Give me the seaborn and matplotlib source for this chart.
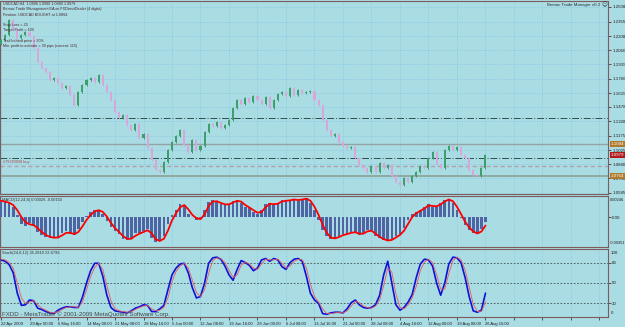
import numpy as np
import pandas as pd
import seaborn as sns
import matplotlib.pyplot as plt
import matplotlib.transforms as mtransforms

# USDCAD H4, one value per plotted bar
first_open = 1.2130
closes = [1.2167, 1.2218, 1.2374, 1.2270, 1.2187, 1.2218, 1.2249, 1.2208, 1.2084, 1.1939,
          1.1877, 1.1836, 1.1753, 1.1774, 1.1722, 1.1670, 1.1691, 1.1598, 1.1495, 1.1629,
          1.1701, 1.1753, 1.1774, 1.1732, 1.1805, 1.1701, 1.1629, 1.1546, 1.1422, 1.1360,
          1.1391, 1.1288, 1.1236, 1.1298, 1.1153, 1.1195, 1.1050, 1.0926, 1.0823, 1.0802,
          1.0905, 1.1029, 1.1112, 1.1174, 1.1236, 1.1081, 1.1009, 1.1133, 1.1029, 1.1071,
          1.1215, 1.1298, 1.1278, 1.1319, 1.1257, 1.1288, 1.1340, 1.1464, 1.1546, 1.1505,
          1.1567, 1.1526, 1.1588, 1.1546, 1.1505, 1.1577, 1.1464, 1.1546, 1.1608, 1.1629,
          1.1588, 1.1670, 1.1598, 1.1650, 1.1619, 1.1629, 1.1639, 1.1546, 1.1495, 1.1340,
          1.1236, 1.1174, 1.1195, 1.1112, 1.1071, 1.1050, 1.1060, 1.0947, 1.0874, 1.0843,
          1.0802, 1.0864, 1.0802, 1.0895, 1.0843, 1.0874, 1.0761, 1.0698, 1.0667, 1.0740,
          1.0698, 1.0761, 1.0802, 1.0864, 1.0843, 1.0947, 1.1009, 1.0885, 1.0843, 1.1029,
          1.1071, 1.1029, 1.1060, 1.0978, 1.0947, 1.0823, 1.0771, 1.0761, 1.0843, 1.0979]

# MACD main (histogram) and signal, in 1e-5 units
macd_hist = [176, 176, 164, 117, 23, -82, -105, -70, -105, -176,
             -211, -234, -246, -246, -234, -187, -164, -199, -211, -140,
             -59, 12, 59, 82, 82, 35, -47, -117, -164, -199,
             -257, -269, -246, -187, -187, -164, -140, -246, -293, -281,
             -222, -82, 23, 82, 152, 140, 35, 0, -35, -23,
             82, 176, 199, 176, 152, 140, 152, 187, 199, 164,
             117, 105, 59, 35, 82, 152, 164, 140, 164, 199,
             187, 199, 211, 187, 211, 222, 164, 82, -35, -152,
             -222, -257, -246, -222, -199, -199, -176, -176, -211, -187,
             -152, -164, -222, -246, -269, -281, -257, -222, -199, -129,
             -35, 35, 59, 82, 117, 152, 117, 129, 164, 199,
             211, 164, 82, -12, -94, -152, -187, -199, -140, -59]
macd_signal = [190, 180, 168, 140, 80, 0, -60, -85, -95, -130,
               -175, -210, -232, -242, -240, -215, -185, -185, -200, -175,
               -110, -35, 25, 65, 80, 60, 5, -70, -130, -175,
               -225, -255, -255, -220, -195, -175, -155, -190, -260, -280,
               -255, -160, -40, 45, 115, 140, 90, 25, -15, -25,
               30, 130, 180, 185, 165, 148, 148, 170, 190, 180,
               140, 112, 80, 50, 60, 115, 155, 150, 155, 182,
               190, 195, 205, 198, 205, 215, 190, 120, 25, -90,
               -185, -240, -250, -235, -212, -200, -185, -178, -195, -195,
               -168, -160, -195, -232, -258, -275, -268, -240, -210, -160,
               -80, 0, 45, 72, 100, 135, 130, 125, 148, 182,
               205, 185, 120, 35, -55, -122, -170, -192, -170, -100]

stoch_main = [84, 82, 77, 65, 35, 17, 18, 25, 24, 13,
              11, 8, 6, 5, 10, 13, 15, 15, 14, 14,
              29, 50, 68, 79, 79, 60, 32, 14, 9, 8,
              7, 6, 9, 13, 15, 18, 17, 8, 8, 12,
              17, 40, 62, 72, 78, 79, 65, 43, 28, 30,
              50, 79, 87, 88, 85, 75, 62, 54, 70, 83,
              80, 76, 68, 72, 84, 86, 82, 86, 84, 74,
              70, 80, 85, 86, 82, 60, 35, 25, 20, 5,
              4, 6, 7, 7, 6, 12, 21, 25, 18, 14,
              13, 14, 18, 32, 62, 82, 50, 18, 10, 14,
              22, 33, 58, 78, 85, 84, 75, 50, 32, 50,
              78, 88, 87, 80, 58, 30, 9, 7, 10, 35]
stoch_signal = [85, 84, 80, 72, 50, 28, 20, 22, 24, 18,
                13, 10, 7, 6, 8, 11, 14, 15, 15, 14,
                22, 40, 59, 73, 79, 70, 46, 24, 12, 9,
                8, 7, 8, 11, 14, 16, 17, 12, 9, 10,
                14, 28, 52, 67, 75, 79, 72, 54, 36, 30,
                40, 64, 83, 87, 86, 80, 69, 58, 62, 76,
                81, 78, 72, 70, 78, 85, 84, 84, 85, 79,
                72, 75, 82, 85, 84, 72, 48, 30, 22, 12,
                5, 5, 6, 7, 6, 9, 16, 23, 21, 16,
                14, 13, 16, 25, 46, 72, 66, 34, 14, 12,
                18, 28, 45, 68, 81, 85, 80, 62, 41, 41,
                64, 83, 88, 84, 69, 44, 19, 8, 8, 22]

price_ticks = [1.2508, 1.2355, 1.2208, 1.2060, 1.1915, 1.1766, 1.1615,
               1.1478, 1.1328, 1.1175, 1.1025, 1.0880, 1.0738, 1.0585]
hline_prices = [1.1360, 1.1094, 1.0947, 1.0864, 1.0764]
box_prices = [1.1094, 1.0979, 1.0764]
tick_bars = [0, 7, 14, 21, 28, 35, 42, 49, 56, 63, 70, 77, 84, 91, 98, 105, 112, 119]
time_labels = ["22 Apr 2009", "29 Apr 00:00", "6 May 16:00", "14 May 00:00", "21 May 08:00",
               "28 May 16:00", "5 Jun 00:00", "12 Jun 08:00", "19 Jun 16:00", "29 Jun 00:00",
               "6 Jul 08:00", "13 Jul 16:00", "21 Jul 00:00", "28 Jul 08:00", "4 Aug 16:00",
               "12 Aug 00:00", "19 Aug 08:00", "26 Aug 16:00"]
stoch_levels = [80, 50, 20]

info_lines = ["USDCAD,H4  1.0896 1.0990 1.0880 1.0979",
              "Bemac Trade Management EA on FXDirectDealer (4 digits)",
              "Position: USDCAD BOUGHT at 1.0864",
              "",
              "Stop Loss = 25",
              "Target Profit = 100",
              "",
              "Trail behind price = 30%",
              "Min. profit to activate = 30 pips (current: 115)"]

BG = '#AADCE4'
FRAME = '#7E5C5C'
GRID = '#7DC2E4'
TXT = '#1E1E1E'

sns.set_theme(style='white', rc={'axes.facecolor': BG, 'figure.facecolor': BG,
                                 'axes.edgecolor': FRAME, 'axes.linewidth': 0.8})
plt.rcParams['font.family'] = ['Liberation Sans', 'DejaVu Sans']

W, H = 625, 327
fig = plt.figure(figsize=(W / 100, H / 100), dpi=100)


def panel(y0, y1):
    return fig.add_axes([0, 1 - y1 / H, 608 / W, (y1 - y0) / H])


ax1 = panel(1, 194)
ax2 = panel(196, 247)
ax3 = panel(249, 317)

bars = np.arange(len(closes))
grid_bars = tick_bars + [126, 133, 140, 147]

# ---- price panel ----
df = pd.DataFrame({'bar': bars, 'open': [first_open] + closes[:-1], 'close': closes})
df['lo'] = df[['open', 'close']].min(axis=1)
df['hi'] = df[['open', 'close']].max(axis=1)
df['col'] = np.where(df['close'] >= df['open'], '#3E9E6C', '#D9A6DC')
cols = df['col'].tolist()
wick = 0.0012
ax1.vlines(df['bar'].to_numpy(), (df['lo'] - wick).to_numpy(), (df['hi'] + wick).to_numpy(),
           colors=cols, lw=0.7, zorder=3)
ax1.bar(df['bar'].to_numpy(), (df['hi'] - df['lo']).clip(lower=0.0003).to_numpy(),
        bottom=df['lo'].to_numpy(), width=0.5, color=cols, edgecolor='none', linewidth=0,
        zorder=3)

line_styles = [dict(color='#2F4F4F', lw=0.7, ls=(0, (7, 2, 1, 2))),
               dict(color='#93A3A3', lw=1.0, ls='-'),
               dict(color='#2F4F4F', lw=0.7, ls=(0, (7, 2, 1, 2))),
               dict(color='#B39FA8', lw=1.0, ls=(0, (3, 2))),
               dict(color='#8FAAA0', lw=1.4, ls='-')]
for p, st in zip(hline_prices, line_styles):
    ax1.axhline(p, zorder=2, **st)

ax1.set_ylim(1.0574, 1.2570)
ax1.set_yticks(price_ticks)
ax1.set_yticklabels([f"{v:.4f}" for v in price_ticks])
ax1.text(0.005, (1.0864 - 1.0574) / (1.2570 - 1.0574) + 0.012, "#79780938 buy",
         transform=ax1.transAxes, fontsize=2.8, color='#A04848', va='bottom')

trans = mtransforms.blended_transform_factory(ax1.transAxes, ax1.transData)
for p, fc in zip(box_prices, ['#B07A2C', '#B01A1A', '#B07A2C']):
    ax1.text(1.004, p, f"{p:.4f}", transform=trans, fontsize=3.2, color='white',
             va='center', ha='left', clip_on=False,
             bbox=dict(boxstyle='square,pad=0.2', fc=fc, ec='none'))

for i, line in enumerate(info_lines):
    fig.text(3 / W, 1 - (4 + 5.3 * i) / H, line, fontsize=2.7, color='#4A2828', va='center')
fig.text(600 / W, 1 - 5 / H, "Bemac Trade Manager v0.2", fontsize=3.2, color='#303030',
         ha='right', va='center')
fig.text(602 / W, 1 - 5 / H, "\u263a", fontsize=4, color='#303030', ha='left', va='center',
         family=['DejaVu Sans'])

# ---- MACD panel ----
sns.barplot(x=bars, y=np.array(macd_hist) * 1e-5, native_scale=True, color='#4F64A2',
            saturation=1, width=0.65, errorbar=None, ax=ax2, zorder=3,
            edgecolor='none', linewidth=0)
sns.lineplot(x=bars, y=np.array(macd_signal) * 1e-5, color='#FF0000', lw=1.3, ax=ax2, zorder=4)
ax2.set_ylim(-0.00351, 0.00246)
ax2.set_yticks([0])
ax2.set_yticklabels(["0.00"])
ax2.text(1.003, 0.97, "0.00246", transform=ax2.transAxes, fontsize=2.9, color=TXT, va='top')
ax2.text(1.003, 0.03, "-0.00351", transform=ax2.transAxes, fontsize=2.9, color=TXT, va='bottom')
ax2.text(0.004, 0.92, "MACD(12,24,8) 0.00026 -0.00150", transform=ax2.transAxes,
         fontsize=2.9, color='#303030', va='center')

# ---- Stochastic panel ----
for lv in stoch_levels:
    ax3.axhline(lv, color='#3C5050', lw=0.6, ls=(0, (2, 2)), zorder=2)
sns.lineplot(x=bars, y=stoch_main, color='#1010D8', lw=1.2, ax=ax3, zorder=4)
sns.lineplot(x=bars, y=stoch_signal, color='#E85A5A', lw=0.6, ax=ax3, zorder=5)
ax3.set_ylim(0, 100)
ax3.set_yticks(stoch_levels)
ax3.set_yticklabels([str(v) for v in stoch_levels])
ax3.text(1.004, 0.97, "100", transform=ax3.transAxes, fontsize=3.2, color=TXT, va='top')
ax3.text(1.004, 0.03, "0", transform=ax3.transAxes, fontsize=3.2, color=TXT, va='bottom')
ax3.text(0.004, 0.94, "Stoch(24,6,12) 35.2810 22.6796", transform=ax3.transAxes,
         fontsize=2.9, color='#303030', va='center')
fig.text(2 / W, 1 - 314 / H, "FXDD - MetaTrader \u00a9 2001-2009 MetaQuotes Software Corp.",
         fontsize=4.4, color='#3E4848', va='center')

# ---- shared axis styling ----
for ax in (ax1, ax2, ax3):
    ax.set_xlim(-0.25, 149.1)
    ax.set_xticks(grid_bars)
    ax.grid(True, color=GRID, lw=0.5, ls=(0, (1, 1.5)))
    ax.set_axisbelow(True)
    ax.yaxis.tick_right()
    ax.tick_params(axis='y', labelsize=3.2, length=2, width=0.5, pad=1,
                   colors=TXT, right=True, left=False)
    ax.set_xlabel("")
    ax.set_ylabel("")
    for s in ax.spines.values():
        s.set_color(FRAME)
        s.set_linewidth(0.8)
ax2.grid(False, axis='y')
ax3.grid(False, axis='y')
ax1.tick_params(axis='x', bottom=False, labelbottom=False)
ax2.tick_params(axis='x', bottom=False, labelbottom=False)
ax3.set_xticklabels(time_labels + [""] * 4, ha='left')
ax3.tick_params(axis='x', labelsize=3, length=2, width=0.5, pad=1.5,
                colors=TXT, bottom=True)

fig.savefig("out.png", dpi=100, facecolor=BG)
